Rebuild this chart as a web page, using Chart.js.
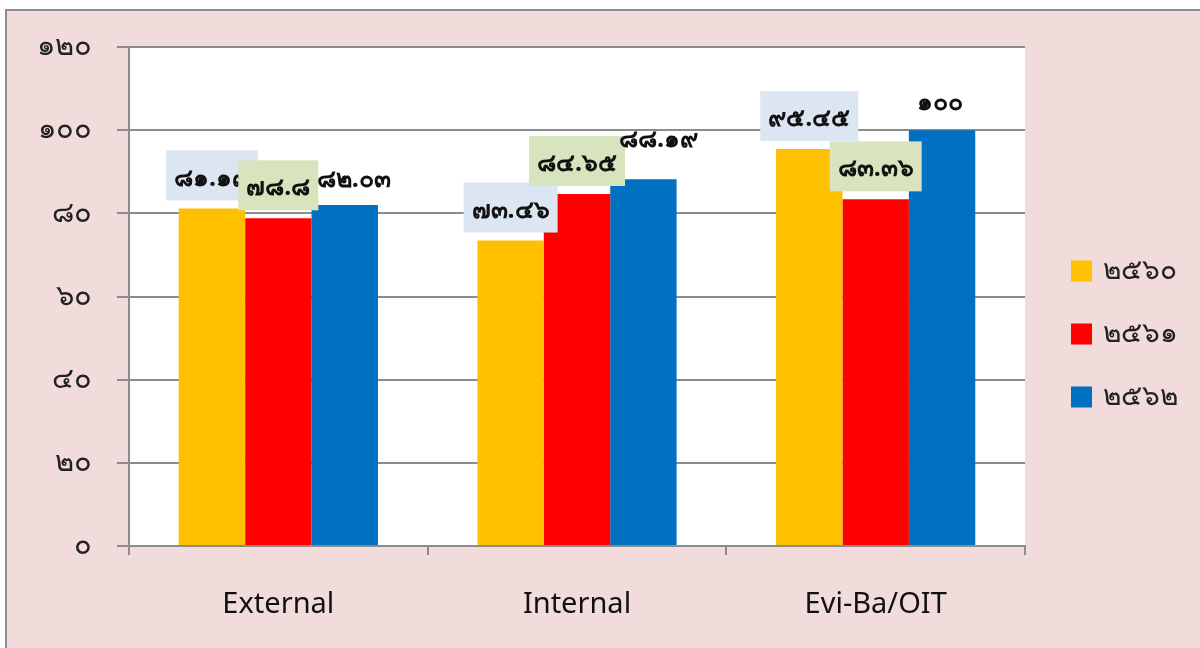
<!DOCTYPE html>
<html>
<head>
<meta charset="utf-8">
<script src="https://cdn.jsdelivr.net/npm/chart.js@4/dist/chart.umd.min.js"></script>
<style>
  html, body { margin: 0; padding: 0; background: #fff; }
  #frame {
    position: absolute; left: 5px; top: 9px; right: 0; bottom: 0;
    background: #F2DCDB;
    border-top: 2px solid #8c8c8c;
    border-left: 2px solid #8c8c8c;
  }
  #wrap { position: absolute; left: 0; top: 0; width: 1200px; height: 648px; }
</style>
</head>
<body>
<div id="frame"></div>
<div id="wrap"><canvas id="chart" width="1200" height="648"></canvas></div>
<script>
const CATEGORIES = ['External', 'Internal', 'Evi-Ba/OIT'];
const SERIES_NAMES = ['๒๕๖๐', '๒๕๖๑', '๒๕๖๒'];
const Y2560 = [81.19, 73.46, 95.45];
const Y2561 = [78.8, 84.65, 83.36];
const Y2562 = [82.03, 88.19, 100];
const Y_TICKS = ['๐', '๒๐', '๔๐', '๖๐', '๘๐', '๑๐๐', '๑๒๐'];

const COLORS = ['#FFC000', '#FF0000', '#0070C0'];
const LABEL_BOX = ['#DCE6F2', '#D7E4BD', null];
// label nudges for the unboxed series (dx, dy from bar top)
const BLUE_SHIFT = [[9, -25], [15, -39], [-2, -27]];

const FONT = "'Noto Sans', 'DejaVu Sans', sans-serif";
const thai = s => String(s).replace(/[0-9]/g, d => '๐๑๒๓๔๕๖๗๘๙'[d]);

const plotBg = {
  id: 'plotBg',
  beforeDraw(chart) {
    const { ctx, chartArea: a } = chart;
    ctx.save();
    ctx.fillStyle = '#fff';
    ctx.fillRect(a.left, a.top, a.right - a.left, a.bottom - a.top);
    ctx.restore();
  }
};

const valueLabels = {
  id: 'valueLabels',
  afterDatasetsDraw(chart) {
    const ctx = chart.ctx;
    ctx.save();
    ctx.font = 'bold 25px ' + FONT;
    ctx.textAlign = 'center';
    ctx.textBaseline = 'middle';
    chart.data.datasets.forEach((ds, di) => {
      chart.getDatasetMeta(di).data.forEach((bar, i) => {
        const txt = thai(ds.data[i]);
        if (LABEL_BOX[di]) {
          const w = ctx.measureText(txt).width + 16;
          const cy = bar.y - 33;
          ctx.fillStyle = LABEL_BOX[di];
          ctx.fillRect(bar.x - w / 2, cy - 25, w, 50);
          ctx.fillStyle = '#111';
          ctx.fillText(txt, bar.x, cy + 3);
        } else {
          const [dx, dy] = BLUE_SHIFT[i];
          ctx.fillStyle = '#111';
          ctx.fillText(txt, bar.x + dx, bar.y + dy);
        }
      });
    });
    ctx.restore();
  }
};

const sideLegend = {
  id: 'sideLegend',
  afterDraw(chart) {
    const ctx = chart.ctx;
    ctx.save();
    ctx.font = '28px ' + FONT;
    ctx.textAlign = 'left';
    ctx.textBaseline = 'middle';
    chart.data.datasets.forEach((ds, i) => {
      const cy = chart.height / 2 + 10 + (i - 1) * 63;
      ctx.fillStyle = ds.backgroundColor;
      ctx.fillRect(1071, cy - 10.5, 21, 21);
      ctx.fillStyle = '#222';
      ctx.fillText(ds.label, 1103, cy);
    });
    ctx.restore();
  }
};

new Chart(document.getElementById('chart'), {
  type: 'bar',
  data: {
    labels: CATEGORIES,
    datasets: [Y2560, Y2561, Y2562].map((vals, i) => ({
      label: SERIES_NAMES[i],
      data: vals,
      backgroundColor: COLORS[i],
      barPercentage: 1,
      categoryPercentage: 0.667
    }))
  },
  options: {
    responsive: false,
    animation: false,
    layout: { padding: { top: 47, right: 175, left: 0, bottom: 0 } },
    plugins: {
      legend: { display: false },
      tooltip: { enabled: false }
    },
    scales: {
      x: {
        afterFit: s => { s.height = 102; },
        grid: { drawOnChartArea: false, color: '#8c8c8c', lineWidth: 2, tickLength: 9, offset: true },
        border: { color: '#8c8c8c', width: 2 },
        ticks: { color: '#111', font: { family: FONT, size: 29 }, padding: 32 }
      },
      y: {
        min: 0, max: 120,
        afterFit: s => { s.width = 129; },
        grid: { color: '#8c8c8c', lineWidth: 2, tickLength: 12 },
        border: { color: '#8c8c8c', width: 2 },
        ticks: {
          stepSize: 20,
          color: '#222',
          padding: 25,
          font: { family: FONT, size: 29 },
          callback: (v, i) => Y_TICKS[i]
        }
      }
    }
  },
  plugins: [plotBg, valueLabels, sideLegend]
});
</script>
</body>
</html>
